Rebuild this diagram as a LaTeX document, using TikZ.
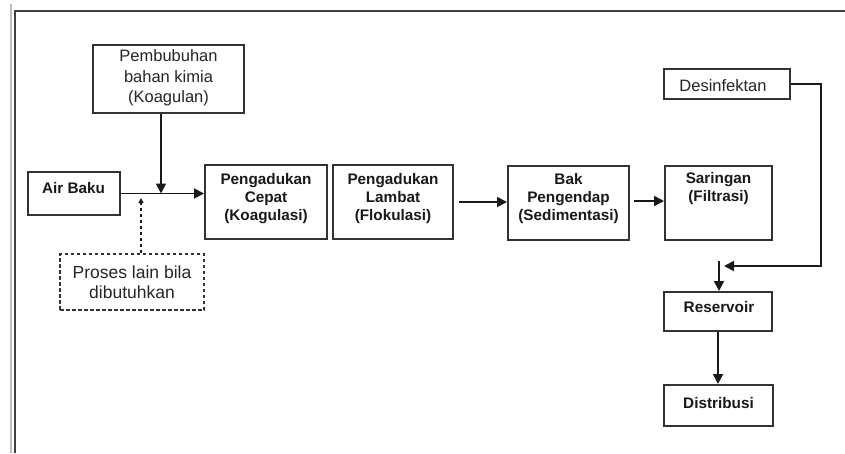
\documentclass[tikz,border=0pt]{standalone}
\usepackage{fontspec}
\setmainfont{Liberation Sans}
\usetikzlibrary{arrows.meta}
\begin{document}
\begin{tikzpicture}[x=1pt,y=-1pt,
 box/.style={draw=black!80,line width=2pt,inner sep=0pt},
 dbox/.style={box,dash pattern=on 3.5pt off 2.5pt},
 bt/.style={font=\fontsize{15.3}{18}\selectfont\bfseries,align=center,text=black!90,inner sep=0pt},
 rt/.style={font=\fontsize{16.5}{20.5}\selectfont,align=center,text=black!85,inner sep=0pt},
 conn/.style={line width=1.9pt,draw=black!90},
 arr/.style={conn,-{Triangle[length=10pt,width=10pt]}},
]
\useasboundingbox (0,0) rectangle (845,453);
\fill[white] (0,0) rectangle (845,453);
% frame
\draw[black!25,line width=2.5pt] (11,4) -- (11,453);
\draw[black!75,line width=2.2pt] (15,453) -- (15,11) -- (845,11);
% boxes
\node[box,minimum width=151pt,minimum height=68pt] (pem) at (168.5,79) {};
\node[rt] (pemt) at (168.5,78) {Pembubuhan\\bahan kimia\\(Koagulan)};
\node[box,minimum width=126pt,minimum height=30pt] (des) at (727,84) {};
\node[rt] (dest) at (723,86) {Desinfektan};
\node[box,minimum width=92pt,minimum height=43pt] (air) at (74,193.5) {};
\node[bt] (airt) at (73.5,188) {Air Baku};
\node[box,minimum width=122pt,minimum height=74pt] (cep) at (266,202) {};
\node[bt] (cept) at (266,199) {Pengadukan\\Cepat\\(Koagulasi)};
\node[box,minimum width=120pt,minimum height=74pt] (lam) at (393,202) {};
\node[bt] (lamt) at (393,199) {Pengadukan\\Lambat\\(Flokulasi)};
\node[box,minimum width=121pt,minimum height=74pt] (bak) at (568.5,203) {};
\node[bt] (bakt) at (568.5,199) {Bak\\Pengendap\\(Sedimentasi)};
\node[box,minimum width=107pt,minimum height=74pt] (sar) at (718.5,203) {};
\node[bt] (sart) at (718.5,189) {Saringan\\(Filtrasi)};
\node[dbox,minimum width=144pt,minimum height=56pt] (pro) at (132,282) {};
\node[rt,font=\fontsize{17.5}{20.5}\selectfont] (prot) at (132,282) {Proses lain bila\\dibutuhkan};
\node[box,minimum width=108pt,minimum height=39pt] (res) at (718,311.5) {};
\node[bt] (rest) at (719,307) {Reservoir};
\node[box,minimum width=109pt,minimum height=41pt] (dis) at (718.5,405.5) {};
\node[bt] (dist) at (718.5,403) {Distribusi};
% connectors
\draw[arr] (air.east) -- (air.east -| cep.west);
\coordinate (j) at (161,193.5);
\draw[arr] (pem.south -| j) -- (j);
\coordinate (dtop) at (141,198);
\draw[conn,line width=1.6pt,dash pattern=on 3.5pt off 2.5pt,-{Triangle[length=5pt,width=5pt]}] ([xshift=9pt]pro.north) -- (dtop);
\draw[arr] ([xshift=5pt]lam.east) -- (bak.west |- lam.east);
\draw[arr] ([xshift=4pt,yshift=2pt]bak.east) -- ([yshift=2pt]sar.west);
\coordinate (dc) at (821,266);
\coordinate (dend) at (724,266);
\draw[arr] (des.east) -| (dc) -- (dend);
\coordinate (rin) at (719,261);
\draw[arr] (rin) -- (rin |- res.north);
\draw[arr] (res.south) -- (res.south |- dis.north);
\end{tikzpicture}
\end{document}
